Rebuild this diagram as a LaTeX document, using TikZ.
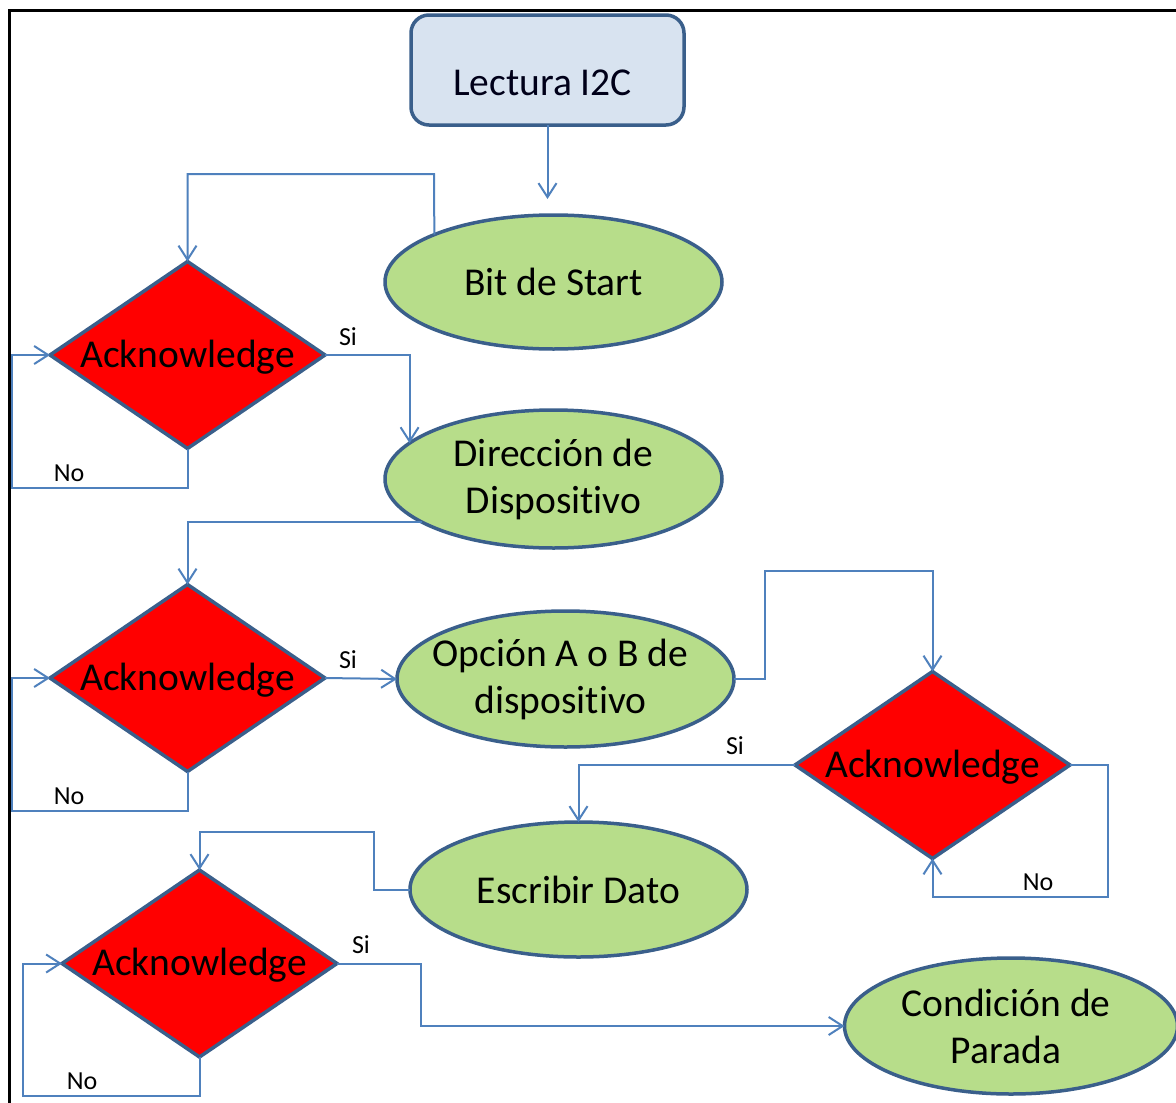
\documentclass[tikz,border=0pt]{standalone}
\usepackage{fontspec}
\setmainfont[RawFeature={-liga,-clig,-calt,-dlig}]{Carlito}
\usetikzlibrary{shapes.geometric,arrows.meta}
\definecolor{lineblue}{HTML}{4F81BD}
\definecolor{edgeblue}{HTML}{3A5F8B}
\definecolor{boxfill}{HTML}{D8E3F0}
\definecolor{okgreen}{HTML}{B7DD8A}
\begin{document}
\begin{tikzpicture}[x=1pt,y=-1pt,
  startbox/.style={rectangle, rounded corners=18pt, draw=edgeblue, line width=3.5pt, fill=boxfill, minimum width=273pt, minimum height=110pt, inner sep=0pt, outer sep=0pt},
  ell/.style={ellipse, draw=edgeblue, line width=3.5pt, fill=okgreen, minimum width=337pt, minimum height=136pt, inner sep=0pt, outer sep=0pt},
  dia/.style={diamond, draw=edgeblue, line width=3.5pt, fill=red, minimum width=275pt, minimum height=187pt, inner sep=0pt, outer sep=0pt},
  txt/.style={align=center, text=black, font=\fontsize{39.5}{47}\selectfont, inner sep=0pt},
  lbl/.style={text=black, font=\fontsize{26}{30}\selectfont, inner sep=0pt},
  conn/.style={draw=lineblue, line width=2pt, -{Straight Barb[length=14pt,width=18pt]}}]
\clip (0,0) rectangle (1176,1103);
\fill[white] (0,0) rectangle (1176,1103);
\draw[black, line width=3pt] (9,1110) -- (9,10) -- (1180,10);

% shapes
\node[startbox] (top) at (547.5,70) {};
\node[txt, text=black!90!blue, yshift=-13pt, xshift=-5pt] (ttop) at (top) {Lectura I2C};

\node[ell, minimum height=134pt] (e1) at (553.5,282) {};
\node[txt] (te1) at (e1) {Bit de Start};

\node[dia] (d1) at (187.5,355) {};
\node[txt, yshift=-2pt] (td1) at (d1) {Acknowledge};

\node[ell, minimum height=138pt] (e2) at (553.5,479) {};
\node[txt] (te2) at (e2) {Dirección de\\Dispositivo};

\node[dia] (d2) at (187.5,678) {};
\node[txt, yshift=-2pt] (td2) at (d2) {Acknowledge};

\node[ell] (e3) at (565.5,679) {};
\node[txt] (te3) at ([xshift=-5pt]e3.center) {Opción A o B de\\dispositivo};

\node[dia] (d3) at (932.5,765) {};
\node[txt, yshift=-2pt] (td3) at (d3) {Acknowledge};

\node[ell, minimum height=135pt] (e4) at (578.5,889.5) {};
\node[txt] (te4) at (e4) {Escribir Dato};

\node[dia] (d4) at (199.5,963.5) {};
\node[txt, yshift=-2pt] (td4) at (d4) {Acknowledge};

\node[ell, minimum width=333pt] (e5) at (1011,1026) {};
\node[txt] (te5) at ([xshift=-5pt]e5.center) {Condición de\\Parada};

% helper coordinates
\coordinate (a1) at (547.5,199);
\coordinate (c1) at (434,174);
\coordinate (n1) at (12,488);
\coordinate (n2) at (12,811);
\coordinate (c3) at (765,571);
\coordinate (n3) at (1108,897);
\coordinate (c4) at (374,832);
\coordinate (c5) at (421,1000);
\coordinate (n4) at (23,1096);

% connectors
\draw[conn] (top.south) -- (a1);
\draw[conn] (e1.north west) -- (c1) -| (d1.north);
\draw[conn] (d1.east) -| (e2.166);
\draw[conn] (d1.south) |- (n1) |- (d1.west);
\draw[conn] (e2.198) -| (d2.north);
\draw[conn] (d2.east) -- (e3.west);
\draw[conn] (d2.south) |- (n2) |- (d2.west);
\draw[conn] (e3.east) -| (c3) -| (d3.north);
\draw[conn] (d3.west) -| (e4.north);
\draw[conn] (d3.east) -| (n3) -| (d3.south);
\draw[conn] (e4.west) -| (c4) -| (d4.north);
\draw[conn] (d4.east) -| (c5) |- (e5.west);
\draw[conn] (d4.south) |- (n4) |- (d4.west);

% labels
\node[lbl] (si1) at (348,337) {Si};
\node[lbl] (no1) at (69,473) {No};
\node[lbl] (si2) at (348,660) {Si};
\node[lbl] (no2) at (69,796) {No};
\node[lbl] (si3) at (735,746) {Si};
\node[lbl] (no3) at (1038,882) {No};
\node[lbl] (si4) at (361,945) {Si};
\node[lbl] (no4) at (82,1081) {No};
\end{tikzpicture}
\end{document}
